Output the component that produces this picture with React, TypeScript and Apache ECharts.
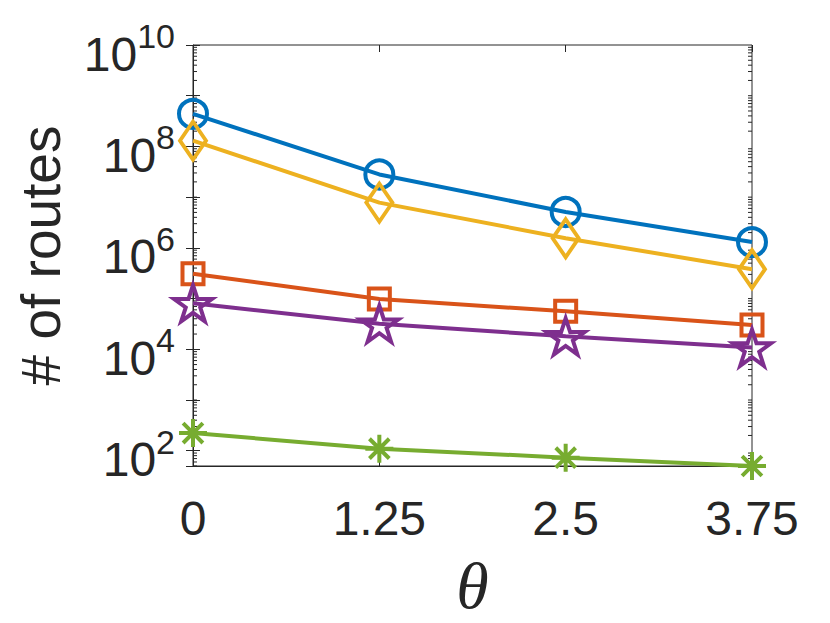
import React, { useEffect, useRef } from "react";
import * as echarts from "echarts";

// ---- data ----
const thetas = [0, 1.25, 2.5, 3.75];
const seriesNames = ["A", "B", "C", "D", "E"];
const circleVals = [4.4e8, 2.8e7, 5.1e6, 1.3e6];
const squareVals = [3.1e5, 9.8e4, 5.6e4, 3.0e4];
const diamondVals = [1.3e8, 7.8e6, 1.55e6, 3.8e5];
const starVals = [8.1e4, 3.2e4, 1.8e4, 1.08e4];
const asteriskVals = [223, 110, 73, 50];
const yMin = 50;
const yMax = 1e10;
const labeledExponents = [2, 4, 6, 8, 10];
const minorMultipliers = [1, 2, 3, 4, 5, 6, 7, 8, 9];
const decadeExponents = [1, 2, 3, 4, 5, 6, 7, 8, 9];

const FONT = "'Liberation Sans', Arial, Helvetica, sans-serif";
const AX = "#262626";

const STAR =
  "path://M0,-1L0.2245,-0.309L0.951,-0.309L0.363,0.118L0.588,0.809L0,0.382L-0.588,0.809L-0.363,0.118L-0.951,-0.309L-0.2245,-0.309Z";
const ASTER =
  "path://M0,-1L0,1M-1,0L1,0M-0.7071,-0.7071L0.7071,0.7071M-0.7071,0.7071L0.7071,-0.7071";

export default function App() {
  const ref = useRef<HTMLDivElement>(null);
  useEffect(() => {
    if (!ref.current) return;
    const chart = echarts.init(ref.current, null, { renderer: "svg" });

    const minorTicks: number[] = [];
    decadeExponents.forEach((n) => {
      minorMultipliers.forEach((k) => {
        const v = k * Math.pow(10, n);
        if (v < yMin || v > yMax) return;
        if (k === 1 && labeledExponents.includes(n)) return;
        minorTicks.push(v);
      });
    });

    const mk = (
      name: string,
      vals: number[],
      color: string,
      symbol: string,
      size: number | number[],
      keep = false
    ) => ({
      name,
      type: "line",
      data: thetas.map((t, i) => [t, vals[i]]),
      symbol,
      symbolSize: size,
      symbolKeepAspect: keep,
      showAllSymbol: true,
      lineStyle: { color, width: 4 },
      itemStyle: { color: "rgba(0,0,0,0)", borderColor: color, borderWidth: 4 },
      clip: false,
      z: 3,
    });

    const labelFmt = (v: number) => {
      const e = Math.log10(v);
      const r = Math.round(e);
      if (Math.abs(e - r) > 1e-6 || !labeledExponents.includes(r)) return "";
      return `{b|10}{e|${r}}`;
    };

    chart.setOption({
      animation: false,
      backgroundColor: "#ffffff",
      grid: {
        left: 193,
        top: 45,
        width: 559,
        height: 426,
        show: true,
        borderColor: AX,
        borderWidth: 1,
        backgroundColor: "transparent",
      },
      xAxis: [
        {
          type: "value",
          min: 0,
          max: 3.75,
          interval: 1.25,
          axisLine: { show: true, lineStyle: { color: AX, width: 1 } },
          axisTick: { show: true, inside: true, length: 7, lineStyle: { color: AX } },
          splitLine: { show: false },
          axisLabel: {
            fontSize: 48,
            fontFamily: FONT,
            color: AX,
            margin: 28,
            formatter: (v: number) => String(v),
          },
          name: "θ",
          nameLocation: "middle",
          nameGap: 86,
          nameTextStyle: {
            fontSize: 66,
            fontStyle: "italic",
            fontFamily: "'Liberation Serif', 'DejaVu Serif', serif",
            color: AX,
          },
        },
        {
          type: "value",
          position: "top",
          min: 0,
          max: 3.75,
          interval: 1.25,
          axisLine: { show: false },
          axisTick: { show: true, inside: true, length: 7, lineStyle: { color: AX } },
          axisLabel: { show: false },
          splitLine: { show: false },
        },
      ],
      yAxis: [
        {
          type: "log",
          logBase: 10,
          min: yMin,
          max: yMax,
          splitNumber: 5,
          axisLine: { show: true, lineStyle: { color: AX, width: 1 } },
          axisTick: { show: true, inside: true, length: 7, lineStyle: { color: AX } },
          splitLine: { show: false },
          minorTick: { show: false },
          axisLabel: {
            showMinLabel: false,
            margin: 18,
            color: AX,
            fontFamily: FONT,
            formatter: labelFmt,
            padding: [18, 0, 0, 0],
            rich: {
              b: { fontSize: 48, fontFamily: FONT, color: AX },
              e: { fontSize: 34, fontFamily: FONT, color: AX, padding: [0, 0, 36, 0] },
            },
          },
          name: "# of routes",
          nameLocation: "middle",
          nameGap: 125,
          nameTextStyle: { fontSize: 55, fontFamily: FONT, color: AX },
        },
        {
          type: "log",
          logBase: 10,
          position: "right",
          min: yMin,
          max: yMax,
          splitNumber: 5,
          axisLine: { show: false },
          axisTick: { show: true, inside: true, length: 7, lineStyle: { color: AX } },
          axisLabel: { show: false },
          splitLine: { show: false },
        },
      ],
      series: [
        {
          type: "custom",
          name: "minorTicks",
          xAxisIndex: 0,
          yAxisIndex: 0,
          clip: false,
          silent: true,
          z: 1,
          data: minorTicks.map((v) => [0, v]),
          renderItem: (_p: any, api: any) => {
            const v = api.value(1);
            const pL = api.coord([0, v]);
            const pR = api.coord([3.75, v]);
            return {
              type: "group",
              children: [
                {
                  type: "line",
                  shape: { x1: pL[0], y1: pL[1], x2: pL[0] + 4, y2: pL[1] },
                  style: { stroke: AX, lineWidth: 1 },
                },
                {
                  type: "line",
                  shape: { x1: pR[0] - 4, y1: pR[1], x2: pR[0], y2: pR[1] },
                  style: { stroke: AX, lineWidth: 1 },
                },
              ],
            };
          },
        },
        mk(seriesNames[0], circleVals, "#0072BD", "circle", 28),
        mk(seriesNames[1], squareVals, "#D95319", "rect", 21),
        mk(seriesNames[2], diamondVals, "#EDB120", "diamond", [26, 38]),
        mk(seriesNames[3], starVals, "#7E2F8E", STAR, 38, true),
        mk(seriesNames[4], asteriskVals, "#77AC30", ASTER, 28, true),
      ],
    });
    return () => chart.dispose();
  }, []);
  return (
    <div
      ref={ref}
      style={{ position: "fixed", left: 0, top: 0, width: 830, height: 623, background: "#fff" }}
    />
  );
}
